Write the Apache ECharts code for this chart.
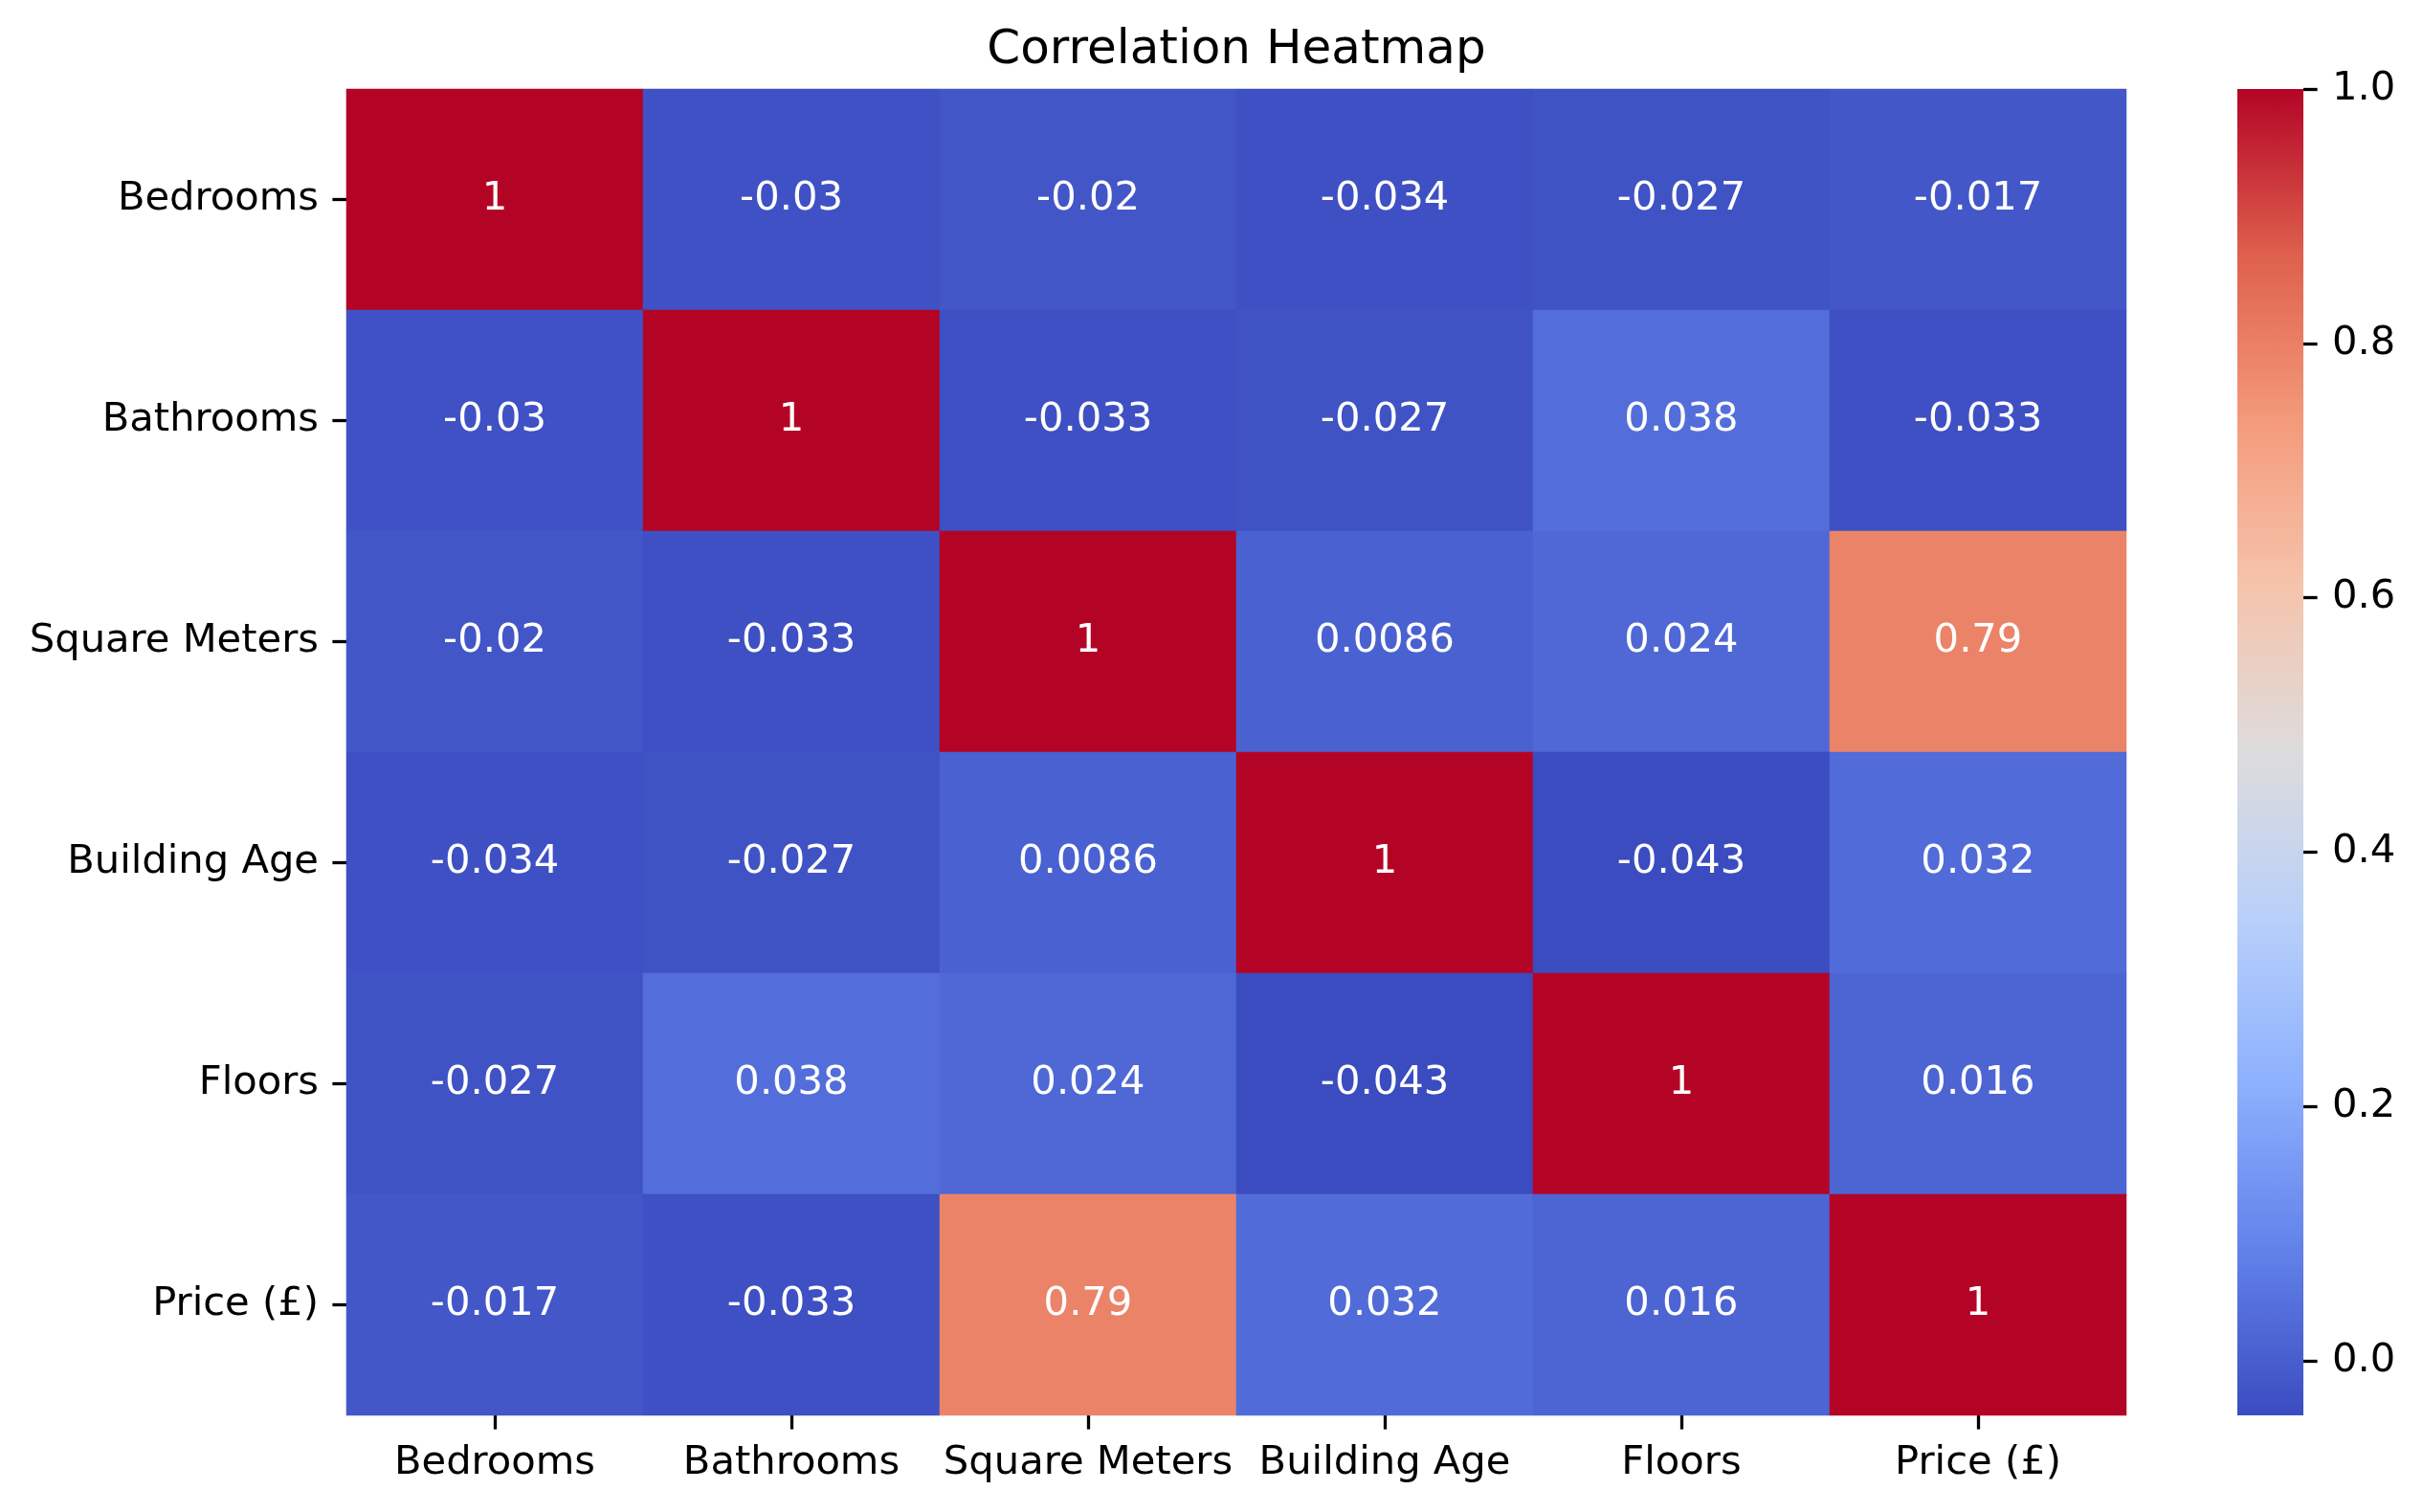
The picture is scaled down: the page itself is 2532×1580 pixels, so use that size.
<!DOCTYPE html>
<html>
<head>
<meta charset="utf-8">
<script src="https://cdn.jsdelivr.net/npm/echarts@6/dist/echarts.min.js"></script>
<style>html,body{margin:0;padding:0;background:#fff;}#c{width:2532px;height:1580px;}</style>
</head>
<body>
<div id="c"></div>
<script>
var labels = ['Bedrooms', 'Bathrooms', 'Square Meters', 'Building Age', 'Floors', 'Price (£)'];
var rowBedrooms = [1, -0.03, -0.02, -0.034, -0.027, -0.017];
var rowBathrooms = [-0.03, 1, -0.033, -0.027, 0.038, -0.033];
var rowSquareMeters = [-0.02, -0.033, 1, 0.0086, 0.024, 0.79];
var rowBuildingAge = [-0.034, -0.027, 0.0086, 1, -0.043, 0.032];
var rowFloors = [-0.027, 0.038, 0.024, -0.043, 1, 0.016];
var rowPrice = [-0.017, -0.033, 0.79, 0.032, 0.016, 1];
var colorbarTicks = [0.0, 0.2, 0.4, 0.6, 0.8, 1.0];
var colorMin = -0.043, colorMax = 1.0;

var rows = [rowBedrooms, rowBathrooms, rowSquareMeters, rowBuildingAge, rowFloors, rowPrice];
var data = [];
rows.forEach(function (r, yi) {
  r.forEach(function (v, xi) { data.push([xi, yi, v]); });
});

var coolwarm = ['#3b4cc0', '#6282ea', '#8db0fe', '#b8d0f9', '#dddcdc', '#f5c4ac', '#f49a7b', '#de604d', '#b40426'];
var FONT = 'DejaVu Sans';
var FS = 41.67;

var gradStops = coolwarm.map(function (c, i) { return {offset: i / (coolwarm.length - 1), color: c}; });

var chart = echarts.init(document.getElementById('c'), null, {renderer: 'canvas'});
chart.setOption({
  backgroundColor: '#ffffff',
  animation: false,
  title: {
    text: 'Correlation Heatmap',
    left: 1292, top: 28, textAlign: 'center', padding: 0,
    textStyle: {fontFamily: FONT, fontSize: 50, fontWeight: 'normal', color: '#000'}
  },
  grid: [
    {left: 362, top: 93, width: 1860, height: 1386},
    {left: 2338, top: 93, width: 69, height: 1386},
    {left: 2407, top: 93, width: 20, height: 1386}
  ],
  xAxis: [{
    type: 'category', data: labels, gridIndex: 0, position: 'bottom',
    axisLine: {show: false},
    axisTick: {show: true, alignWithLabel: true, length: 14.6, lineStyle: {color: '#000', width: 3.3}},
    axisLabel: {interval: 0, fontFamily: FONT, fontSize: FS, color: '#000', margin: 29},
    splitLine: {show: false}
  }, {
    type: 'value', gridIndex: 1, show: false, min: 0, max: 1
  }, {
    type: 'value', gridIndex: 2, show: false, min: 0, max: 1
  }],
  yAxis: [{
    type: 'category', data: labels, gridIndex: 0, inverse: true,
    axisLine: {show: false},
    axisTick: {show: true, alignWithLabel: true, length: 14.6, lineStyle: {color: '#000', width: 3.3}},
    axisLabel: {interval: 0, fontFamily: FONT, fontSize: FS, color: '#000', margin: 29},
    splitLine: {show: false}
  }, {
    type: 'value', gridIndex: 1, show: false, min: colorMin, max: colorMax
  }, {
    type: 'value', gridIndex: 2, position: 'left', min: colorMin, max: colorMax,
    axisLine: {show: false},
    axisTick: {show: true, inside: true, length: 14.6, customValues: colorbarTicks, lineStyle: {color: '#000', width: 3.3}},
    axisLabel: {show: true, inside: true, customValues: colorbarTicks, fontFamily: FONT, fontSize: FS, color: '#000', margin: 30,
      formatter: function (v) { return Number(v).toFixed(1); }},
    splitLine: {show: false}
  }],
  visualMap: {
    type: 'continuous', show: false, min: colorMin, max: colorMax,
    seriesIndex: 0, dimension: 2,
    inRange: {color: coolwarm}
  },
  series: [{
    type: 'heatmap', xAxisIndex: 0, yAxisIndex: 0, data: data,
    itemStyle: {borderWidth: 0},
    label: {show: true, color: '#fff', fontFamily: FONT, fontSize: FS,
      formatter: function (p) { return String(p.value[2]); }},
    emphasis: {disabled: true}
  }, {
    type: 'custom', xAxisIndex: 1, yAxisIndex: 1, silent: true,
    data: [[0, 1, colorMin, colorMax]],
    renderItem: function (params, api) {
      var p0 = api.coord([api.value(0), api.value(2)]);
      var p1 = api.coord([api.value(1), api.value(3)]);
      return {
        type: 'rect',
        shape: {x: p0[0], y: p1[1], width: p1[0] - p0[0], height: p0[1] - p1[1]},
        style: {fill: new echarts.graphic.LinearGradient(0, 1, 0, 0, gradStops), stroke: null}
      };
    }
  }]
});
</script>
</body>
</html>
